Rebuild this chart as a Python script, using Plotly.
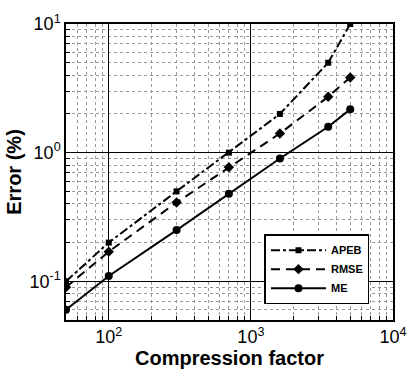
import plotly.graph_objects as go

x_vals = [50, 100, 300, 700, 1600, 3500, 5000]
apeb = [0.10, 0.20, 0.50, 1.0, 2.0, 5.0, 10.0]
rmse = [0.09, 0.17, 0.41, 0.77, 1.41, 2.72, 3.84]
me = [0.06, 0.11, 0.25, 0.48, 0.90, 1.59, 2.17]

x_tick_vals = [100, 1000, 10000]
x_tick_text = ["10<sup>2</sup>", "10<sup>3</sup>", "10<sup>4</sup>"]
y_tick_vals = [0.1, 1, 10]
y_tick_text = ["10<sup>-1</sup>", "10<sup>0</sup>", "10<sup>1</sup>"]

x_minor = [m * d for d in [10, 100, 1000] for m in range(2, 10)]
y_minor = [m * d for d in [0.01, 0.1, 1] for m in range(2, 10)]

fig = go.Figure()
fig.add_trace(go.Scatter(x=x_vals, y=apeb, name="APEB", mode="lines+markers",
                         line=dict(color="black", width=2, dash="dashdot"),
                         marker=dict(symbol="square", size=6, color="black")))
fig.add_trace(go.Scatter(x=x_vals, y=rmse, name="RMSE", mode="lines+markers",
                         line=dict(color="black", width=2, dash="9px,6px"),
                         marker=dict(symbol="diamond", size=8, color="black")))
fig.add_trace(go.Scatter(x=x_vals, y=me, name="ME", mode="lines+markers",
                         line=dict(color="black", width=2),
                         marker=dict(symbol="circle", size=8, color="black")))

def axis_common(minor_vals):
    return dict(
        type="log", showline=True, linecolor="black", linewidth=1.5, mirror=True,
        showgrid=True, gridcolor="black", gridwidth=1,
        ticks="inside", ticklen=7, tickcolor="black",
        tickfont=dict(family="Liberation Sans, Arial", size=18, color="black"),
        zeroline=False,
        minor=dict(tickmode="array", tickvals=minor_vals, ticks="inside", ticklen=4,
                   tickcolor="black", showgrid=True,
                   gridcolor="#999", griddash="dot", gridwidth=1),
    )

fig.update_xaxes(range=[1.699, 4], tickvals=x_tick_vals, ticktext=x_tick_text,
                 title=dict(text="<b>Compression factor</b>", standoff=0,
                            font=dict(family="Liberation Sans, Arial", size=20, color="black")),
                 **axis_common(x_minor))
fig.update_yaxes(range=[-1.301, 1], tickvals=y_tick_vals, ticktext=y_tick_text,
                 title=dict(text="<b>Error (%)</b>", standoff=2,
                            font=dict(family="Liberation Sans, Arial", size=20, color="black")),
                 **axis_common(y_minor))

fig.update_layout(
    width=419, height=373,
    margin=dict(l=66, r=15, t=16, b=50),
    plot_bgcolor="white", paper_bgcolor="white",
    showlegend=True,
    legend=dict(x=0.607, y=0.29, xanchor="left", yanchor="top",
                bgcolor="white", bordercolor="black", borderwidth=1.5,
                itemwidth=55, tracegroupgap=0,
                font=dict(family="Liberation Sans, Arial", size=11, color="black", weight="bold")),
)

fig.write_html("out.html")
